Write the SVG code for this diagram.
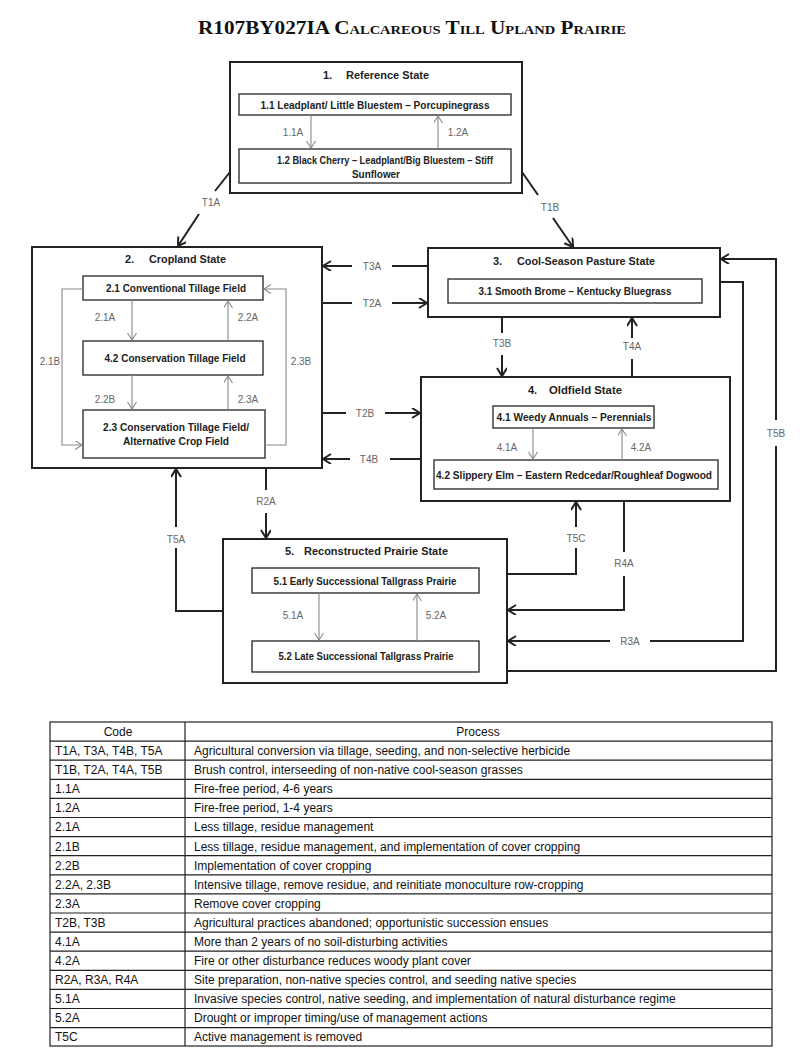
<svg xmlns="http://www.w3.org/2000/svg" width="800" height="1064" viewBox="0 0 800 1064">
<style>
.bg{fill:#fff}
.state{fill:#fff;stroke:#222;stroke-width:2}
.comm{fill:#fff;stroke:#333;stroke-width:1.4}
.st{font-family:"Liberation Sans",Arial,sans-serif;font-weight:bold;font-size:11px;fill:#222}
.ct{font-family:"Liberation Sans",Arial,sans-serif;font-weight:bold;font-size:10.5px;fill:#222;text-anchor:middle}
.lbl{font-family:"Liberation Sans",Arial,sans-serif;font-size:10px;fill:#666;text-anchor:middle}
.out{fill:none;stroke:#222;stroke-width:2}
.inn{fill:none;stroke:#888;stroke-width:1.1}
.tt{font-family:"Liberation Sans",Arial,sans-serif;font-size:12px;fill:#111}
.tl{stroke:#222;stroke-width:1.2;fill:none}
</style>
<defs>
<marker id="ao" markerWidth="12" markerHeight="12" refX="9" refY="5" orient="auto" markerUnits="userSpaceOnUse" viewBox="0 0 12 12">
<path d="M1,0 L9,5 L1,10" fill="none" stroke="#222" stroke-width="2"/>
</marker>
<marker id="ai" markerWidth="10" markerHeight="10" refX="8" refY="4.5" orient="auto" markerUnits="userSpaceOnUse" viewBox="0 0 10 10">
<path d="M1,0 L8,4.5 L1,9" fill="none" stroke="#888" stroke-width="1.1"/>
</marker>
</defs>
<rect class="bg" x="0" y="0" width="800" height="1064"/>
<text x="412" y="34" text-anchor="middle" font-family="'Liberation Serif','Times New Roman',serif" font-weight="bold" font-size="19" font-variant="small-caps" fill="#111" textLength="428" lengthAdjust="spacingAndGlyphs">R107BY027IA Calcareous Till Upland Prairie</text>

<g id="state1">
<rect class="state" x="230" y="62" width="292" height="131"/>
<text class="st" x="323" y="79">1.</text>
<text class="st" x="346" y="79" textLength="83" lengthAdjust="spacingAndGlyphs">Reference State</text>
<g id="c11"><rect class="comm" x="239" y="94" width="272" height="21"/>
<text class="ct" x="375" y="109" textLength="229" lengthAdjust="spacingAndGlyphs">1.1 Leadplant/ Little Bluestem – Porcupinegrass</text></g>
<g id="c12"><rect class="comm" x="239" y="149" width="272" height="34"/>
<text class="ct" x="385" y="164" textLength="216" lengthAdjust="spacingAndGlyphs">1.2 Black Cherry – Leadplant/Big Bluestem – Stiff</text>
<text class="ct" x="376" y="178" textLength="48" lengthAdjust="spacingAndGlyphs">Sunflower</text></g>
</g>

<g id="state2">
<rect class="state" x="32" y="247" width="290" height="221"/>
<text class="st" x="125" y="263">2.</text>
<text class="st" x="149" y="263" textLength="77" lengthAdjust="spacingAndGlyphs">Cropland State</text>
<g id="c21"><rect class="comm" x="83" y="276" width="180" height="24"/>
<text class="ct" x="176" y="292" textLength="140" lengthAdjust="spacingAndGlyphs">2.1 Conventional Tillage Field</text></g>
<g id="c22"><rect class="comm" x="83" y="341" width="180" height="34"/>
<text class="ct" x="175" y="362" textLength="141" lengthAdjust="spacingAndGlyphs">4.2 Conservation Tillage Field</text></g>
<g id="c23"><rect class="comm" x="83" y="410" width="182" height="48"/>
<text class="ct" x="176" y="431" textLength="146" lengthAdjust="spacingAndGlyphs">2.3 Conservation Tillage Field/</text>
<text class="ct" x="176" y="445" textLength="106" lengthAdjust="spacingAndGlyphs">Alternative Crop Field</text></g>
</g>

<g id="state3">
<rect class="state" x="428" y="248" width="292" height="69"/>
<text class="st" x="493" y="265">3.</text>
<text class="st" x="517" y="265" textLength="138" lengthAdjust="spacingAndGlyphs">Cool-Season Pasture State</text>
<g id="c31"><rect class="comm" x="448" y="279" width="254" height="24"/>
<text class="ct" x="575" y="295" textLength="193" lengthAdjust="spacingAndGlyphs">3.1 Smooth Brome – Kentucky Bluegrass</text></g>
</g>

<g id="state4">
<rect class="state" x="421" y="377" width="309" height="124"/>
<text class="st" x="528" y="394">4.</text>
<text class="st" x="549" y="394" textLength="73" lengthAdjust="spacingAndGlyphs">Oldfield State</text>
<g id="c41"><rect class="comm" x="493" y="406" width="161" height="22"/>
<text class="ct" x="574" y="421" textLength="155" lengthAdjust="spacingAndGlyphs">4.1 Weedy Annuals – Perennials</text></g>
<g id="c42"><rect class="comm" x="434" y="460" width="284" height="29"/>
<text class="ct" x="574" y="479" textLength="276" lengthAdjust="spacingAndGlyphs">4.2  Slippery Elm – Eastern Redcedar/Roughleaf Dogwood</text></g>
</g>

<g id="state5">
<rect class="state" x="223" y="539" width="284" height="144"/>
<text class="st" x="285" y="555">5.</text>
<text class="st" x="304" y="555" textLength="144" lengthAdjust="spacingAndGlyphs">Reconstructed Prairie State</text>
<g id="c51"><rect class="comm" x="252" y="568" width="227" height="25"/>
<text class="ct" x="365" y="585" textLength="183" lengthAdjust="spacingAndGlyphs">5.1 Early Successional Tallgrass Prairie</text></g>
<g id="c52"><rect class="comm" x="252" y="641" width="227" height="31"/>
<text class="ct" x="366" y="660" textLength="175" lengthAdjust="spacingAndGlyphs">5.2 Late Successional Tallgrass Prairie</text></g>
</g>

<g id="connectors">
<!-- inner community pathways -->
<line class="inn" x1="311" y1="115" x2="311" y2="148" marker-end="url(#ai)"/>
<line class="inn" x1="438" y1="149" x2="438" y2="116" marker-end="url(#ai)"/>
<line class="inn" x1="132" y1="300" x2="132" y2="340" marker-end="url(#ai)"/>
<line class="inn" x1="228" y1="341" x2="228" y2="301" marker-end="url(#ai)"/>
<line class="inn" x1="132" y1="375" x2="132" y2="409" marker-end="url(#ai)"/>
<line class="inn" x1="228" y1="410" x2="228" y2="376" marker-end="url(#ai)"/>
<polyline class="inn" points="83,289 62,289 62,445 82,445" marker-end="url(#ai)"/>
<polyline class="inn" points="265,445 286,445 286,289 264,289" marker-end="url(#ai)"/>
<line class="inn" x1="533" y1="428" x2="533" y2="459" marker-end="url(#ai)"/>
<line class="inn" x1="622" y1="460" x2="622" y2="429" marker-end="url(#ai)"/>
<line class="inn" x1="319" y1="593" x2="319" y2="640" marker-end="url(#ai)"/>
<line class="inn" x1="417" y1="641" x2="417" y2="594" marker-end="url(#ai)"/>
<text class="lbl" x="293" y="136">1.1A</text>
<text class="lbl" x="458" y="136">1.2A</text>
<text class="lbl" x="105" y="321">2.1A</text>
<text class="lbl" x="248" y="321">2.2A</text>
<text class="lbl" x="105" y="403">2.2B</text>
<text class="lbl" x="248" y="403">2.3A</text>
<text class="lbl" x="50" y="365">2.1B</text>
<text class="lbl" x="301" y="365">2.3B</text>
<text class="lbl" x="507" y="451">4.1A</text>
<text class="lbl" x="641" y="451">4.2A</text>
<text class="lbl" x="293" y="619">5.1A</text>
<text class="lbl" x="436" y="619">5.2A</text>
<!-- transitions -->
<line class="out" x1="230" y1="172" x2="215" y2="191"/>
<line class="out" x1="199" y1="214" x2="178" y2="246" marker-end="url(#ao)"/>
<text class="lbl" x="211" y="206">T1A</text>
<line class="out" x1="522" y1="172" x2="538" y2="195"/>
<line class="out" x1="553" y1="218" x2="573" y2="247" marker-end="url(#ao)"/>
<text class="lbl" x="550" y="211">T1B</text>
<line class="out" x1="428" y1="266" x2="392" y2="266"/>
<line class="out" x1="352" y1="266" x2="323" y2="266" marker-end="url(#ao)"/>
<text class="lbl" x="372" y="270">T3A</text>
<line class="out" x1="322" y1="303" x2="352" y2="303"/>
<line class="out" x1="392" y1="303" x2="427" y2="303" marker-end="url(#ao)"/>
<text class="lbl" x="372" y="307">T2A</text>
<line class="out" x1="322" y1="413" x2="346" y2="413"/>
<line class="out" x1="385" y1="413" x2="420" y2="413" marker-end="url(#ao)"/>
<text class="lbl" x="365" y="417">T2B</text>
<line class="out" x1="421" y1="459" x2="390" y2="459"/>
<line class="out" x1="350" y1="459" x2="323" y2="459" marker-end="url(#ao)"/>
<text class="lbl" x="369" y="463">T4B</text>
<line class="out" x1="502" y1="317" x2="502" y2="333"/>
<line class="out" x1="502" y1="355" x2="502" y2="376" marker-end="url(#ao)"/>
<text class="lbl" x="502" y="347">T3B</text>
<line class="out" x1="632" y1="377" x2="632" y2="359"/>
<line class="out" x1="632" y1="338" x2="632" y2="318" marker-end="url(#ao)"/>
<text class="lbl" x="632" y="350">T4A</text>
<polyline class="out" points="507,671 776,671 776,446"/>
<polyline class="out" points="776,420 776,259 721,259" marker-end="url(#ao)"/>
<text class="lbl" x="776" y="437">T5B</text>
<polyline class="out" points="720,282 743,282 743,641 650,641"/>
<line class="out" x1="610" y1="641" x2="508" y2="641" marker-end="url(#ao)"/>
<text class="lbl" x="630" y="645">R3A</text>
<line class="out" x1="624" y1="501" x2="624" y2="552"/>
<polyline class="out" points="624,576 624,610 508,610" marker-end="url(#ao)"/>
<text class="lbl" x="624" y="567">R4A</text>
<polyline class="out" points="507,574 576,574 576,548"/>
<line class="out" x1="576" y1="527" x2="576" y2="502" marker-end="url(#ao)"/>
<text class="lbl" x="576" y="542">T5C</text>
<line class="out" x1="266" y1="468" x2="266" y2="490"/>
<line class="out" x1="266" y1="513" x2="266" y2="538" marker-end="url(#ao)"/>
<text class="lbl" x="266" y="505">R2A</text>
<polyline class="out" points="223,611 176,611 176,548"/>
<line class="out" x1="176" y1="527" x2="176" y2="469" marker-end="url(#ao)"/>
<text class="lbl" x="176" y="543">T5A</text>
</g>

<g id="table">
<rect class="tl" x="50" y="722" width="722" height="324"/>
<line class="tl" x1="185" y1="722" x2="185" y2="1046"/>
<path class="tl" d="M50,741.1H772M50,760.2H772M50,779.3H772M50,798.4H772M50,817.5H772M50,836.6H772M50,855.7H772M50,874.8H772M50,893.9H772M50,913H772M50,932.1H772M50,951.2H772M50,970.3H772M50,989.4H772M50,1008.5H772M50,1027.6H772"/>
<text class="tt" x="118" y="736" text-anchor="middle">Code</text>
<text class="tt" x="478" y="736" text-anchor="middle">Process</text>
<g class="tt">
<text x="55" y="755">T1A, T3A, T4B, T5A</text><text x="194" y="755">Agricultural conversion via tillage, seeding, and non-selective herbicide</text>
<text x="55" y="774">T1B, T2A, T4A, T5B</text><text x="194" y="774">Brush control, interseeding of non-native cool-season grasses</text>
<text x="55" y="793">1.1A</text><text x="194" y="793">Fire-free period, 4-6 years</text>
<text x="55" y="812">1.2A</text><text x="194" y="812">Fire-free period, 1-4 years</text>
<text x="55" y="831">2.1A</text><text x="194" y="831">Less tillage, residue management</text>
<text x="55" y="851">2.1B</text><text x="194" y="851">Less tillage, residue management, and implementation of cover cropping</text>
<text x="55" y="870">2.2B</text><text x="194" y="870">Implementation of cover cropping</text>
<text x="55" y="889">2.2A, 2.3B</text><text x="194" y="889">Intensive tillage, remove residue, and reinitiate monoculture row-cropping</text>
<text x="55" y="908">2.3A</text><text x="194" y="908">Remove cover cropping</text>
<text x="55" y="927">T2B, T3B</text><text x="194" y="927">Agricultural practices abandoned; opportunistic succession ensues</text>
<text x="55" y="946">4.1A</text><text x="194" y="946">More than 2 years of no soil-disturbing activities</text>
<text x="55" y="965">4.2A</text><text x="194" y="965">Fire or other disturbance reduces woody plant cover</text>
<text x="55" y="984">R2A, R3A, R4A</text><text x="194" y="984">Site preparation, non-native species control, and seeding native species</text>
<text x="55" y="1003">5.1A</text><text x="194" y="1003">Invasive species control, native seeding, and implementation of natural disturbance regime</text>
<text x="55" y="1022">5.2A</text><text x="194" y="1022">Drought or improper timing/use of management actions</text>
<text x="55" y="1041">T5C</text><text x="194" y="1041">Active management is removed</text>
</g>
</g>
</svg>
